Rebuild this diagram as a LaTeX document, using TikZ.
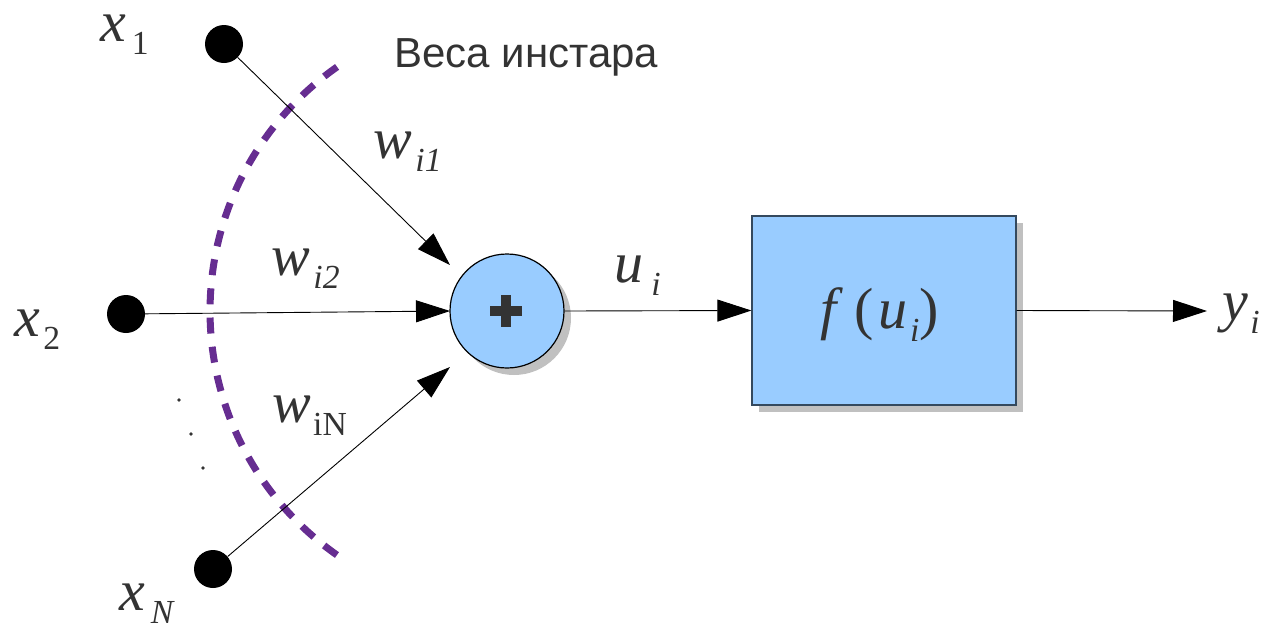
\documentclass[tikz,border=0pt]{standalone}
\usepackage{fontspec}
\setmainfont{Liberation Serif}
\newfontfamily\labsans{Liberation Sans}
\usetikzlibrary{arrows.meta}
\definecolor{txt}{HTML}{333333}
\definecolor{boxblue}{HTML}{99CCFF}
\definecolor{shad}{HTML}{C0C0C0}
\definecolor{purp}{HTML}{662D91}
\definecolor{boxedge}{HTML}{34495E}
\newcommand\bigit[1]{{\fontsize{50}{50}\selectfont\itshape #1}}
\newcommand\smsub[1]{\raisebox{-12pt}{\fontsize{29}{29}\selectfont #1}}
\newcommand\mylab[3]{\bigit{#1}\hspace{#3}\smsub{#2}}
\begin{document}
\begin{tikzpicture}[x=1pt,y=-1pt,
  inp/.style={circle,fill=black,minimum size=38pt,inner sep=0pt},
  conn/.style={draw=black,line width=0.9pt,-{Triangle[length=34pt,width=22pt]}},
  lab/.style={anchor=base west,inner sep=0pt,text=txt,scale=1.16},
  arcstyle/.style={draw=purp,line width=7pt,dash pattern=on 16pt off 13.26pt}]
\useasboundingbox (0,0) rectangle (1270,625);
% shadows
\fill[shad] (514,318) circle (57);
\fill[shad] (759,223) rectangle (1023,412);
% inputs
\node[inp] (x1) at (224,44) {};
\node[inp] (x2) at (126,314) {};
\node[inp] (xN) at (213,569) {};
% sum
\node[circle,draw=black,line width=1.2pt,fill=boxblue,minimum size=114pt,inner sep=0pt] (sum) at (507,311) {};
\fill[txt] (490,306) rectangle (522,316);
\fill[txt] (501,295) rectangle (511,327);
% box
\node[draw=boxedge,line width=1.2pt,fill=boxblue,minimum width=264pt,minimum height=189pt,inner sep=0pt] (f) at (884,310.5) {};
\node[lab] (flab) at (820,328) {\bigit{f}\hspace{16pt}{\fontsize{50}{50}\selectfont(}\hspace{4pt}\bigit{u}\hspace{2pt}\smsub{\itshape i}{\fontsize{50}{50}\selectfont)}};
% tips
\coordinate (t1) at (450,265);
\coordinate (t2) at (450,311);
\coordinate (tN) at (450,367);
\coordinate (ty) at (1207,311);
% arc
\draw[arcstyle] (337.1,66.9) arc[start angle=125,end angle=235,radius=298pt];
% connectors
\draw[conn] (x1) -- (t1);
\draw[conn] (x2) -- (t2);
\draw[conn] (xN) -- (tN);
\draw[conn] (sum.east) -- (f.west);
\draw[conn] (f.east) -- (ty);
% dots
\fill[txt] (179,400) circle (1.8);
\fill[txt] (191,434) circle (1.8);
\fill[txt] (203,468) circle (1.8);
% labels
\node[lab] (lx1) at (100,41) {\mylab{x}{1}{5pt}};
\node[lab] (lx2) at (14,336) {\mylab{x}{2}{3pt}};
\node[lab] (lxN) at (119,610) {\mylab{x}{\itshape N}{5pt}};
\node[lab] (lw1) at (373,158) {\mylab{w}{\itshape i1}{3pt}};
\node[lab] (lw2) at (271,275) {\mylab{w}{\itshape i2}{3pt}};
\node[lab] (lwN) at (272,422) {\mylab{w}{iN}{2pt}};
\node[lab] (lu) at (614,282) {\mylab{u}{\itshape i}{7pt}};
\node[lab] (ly) at (1222,320) {\mylab{y}{\itshape i}{2pt}};
\node[anchor=base west,inner sep=0pt,text=txt,font=\labsans\fontsize{42}{42}\selectfont] (title) at (394,67) {Веса инстара};
\end{tikzpicture}
\end{document}
